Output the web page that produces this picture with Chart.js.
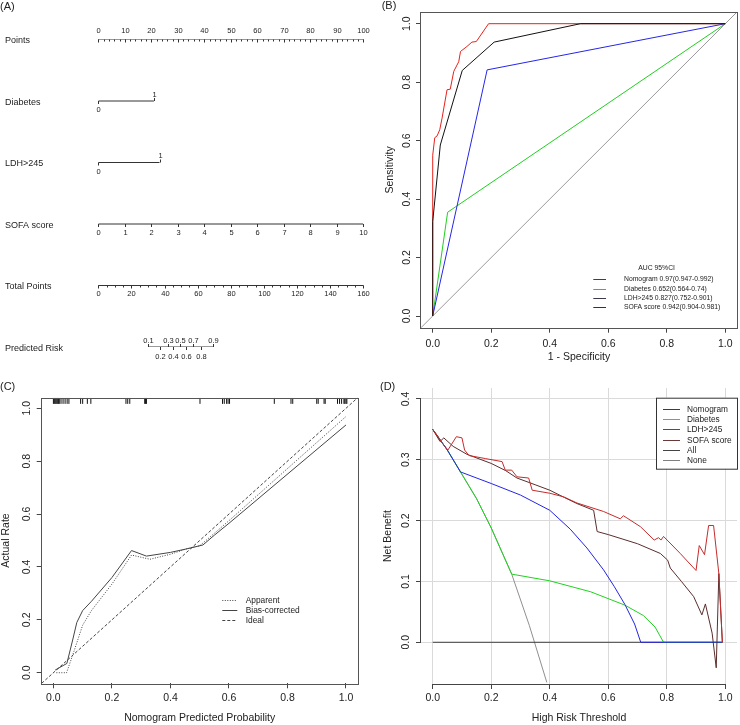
<!DOCTYPE html>
<html><head><meta charset="utf-8">
<script src="https://cdn.jsdelivr.net/npm/chart.js@4/dist/chart.umd.min.js"></script>
<style>
html,body{margin:0;padding:0;background:#fff;width:740px;height:725px;overflow:hidden}
canvas{position:absolute;left:0;top:0}
</style></head><body>
<canvas id="cA" width="740" height="725"></canvas>
<canvas id="cB" width="740" height="725"></canvas>
<canvas id="cC" width="740" height="725"></canvas>
<canvas id="cD" width="740" height="725"></canvas>
<script>
// ---------------- DATA ----------------
// (A) nomogram
const nomoRows = ['Points', 'Diabetes', 'LDH>245', 'SOFA score', 'Total Points', 'Predicted Risk'];
const pointsTickLabels = [0, 10, 20, 30, 40, 50, 60, 70, 80, 90, 100];
const diabetesLevels = ['0', '1'];
const diabetesPoints = [0, 21.0];
const ldhLevels = ['0', '1'];
const ldhPoints = [0, 23.1];
const sofaTickLabels = [0, 1, 2, 3, 4, 5, 6, 7, 8, 9, 10];
const totalTickLabels = [0, 20, 40, 60, 80, 100, 120, 140, 160];
const riskLabels = [0.1, 0.2, 0.3, 0.4, 0.5, 0.6, 0.7, 0.8, 0.9];
const riskTotalPoints = [30.2, 37.3, 42.3, 45.3, 49.3, 53.0, 57.4, 61.8, 69.4];

// (B) ROC curves
const rocNomogramFpr = [0, 0, 0, 0.007, 0.015, 0.024, 0.032, 0.049, 0.06, 0.072, 0.089, 0.095, 0.117, 0.134, 0.149, 0.191, 1];
const rocNomogramTpr = [0, 0.336, 0.55, 0.61, 0.616, 0.637, 0.677, 0.774, 0.776, 0.837, 0.87, 0.905, 0.922, 0.937, 0.939, 1, 1];
const rocDiabetesFpr = [0, 0.051, 1];
const rocDiabetesTpr = [0, 0.355, 1];
const rocLdhFpr = [0, 0.186, 1];
const rocLdhTpr = [0, 0.842, 1];
const rocSofaFpr = [0, 0, 0.026, 0.101, 0.21, 0.505, 1];
const rocSofaTpr = [0, 0.323, 0.585, 0.84, 0.937, 1, 1];
const rocRefLine = [-0.04, 1.04];
const rocTicks = [0, 0.2, 0.4, 0.6, 0.8, 1.0];
const rocLegendTitle = 'AUC 95%CI';
const rocLegendLabels = ['Nomogram 0.97(0.947-0.992)', 'Diabetes 0.652(0.564-0.74)', 'LDH>245 0.827(0.752-0.901)', 'SOFA score 0.942(0.904-0.981)'];

// (C) calibration
const calApparentX = [0.01, 0.045, 0.07, 0.1, 0.13, 0.2, 0.267, 0.33, 0.4, 0.454, 0.5, 0.55, 0.6, 1.0];
const calApparentY = [0.0, 0.0, 0.08, 0.18, 0.235, 0.335, 0.445, 0.429, 0.448, 0.468, 0.48, 0.527, 0.575, 0.969];
const calBiasX = [0.006, 0.046, 0.065, 0.08, 0.1, 0.13, 0.2, 0.267, 0.318, 0.4, 0.454, 0.511, 0.55, 0.6, 1.0];
const calBiasY = [0.01, 0.035, 0.12, 0.19, 0.235, 0.27, 0.36, 0.462, 0.441, 0.455, 0.468, 0.483, 0.52, 0.565, 0.937];
const calIdeal = [-0.04, 1.04];
const calRug = [0, 0.003, 0.006, 0.009, 0.012, 0.015, 0.018, 0.02, 0.026, 0.033, 0.04, 0.047, 0.053,
  0.093, 0.1, 0.116, 0.128, 0.248, 0.254, 0.261, 0.312, 0.315, 0.318, 0.501,
  0.578, 0.584, 0.592, 0.597, 0.602, 0.755, 0.812, 0.818, 0.9, 0.905, 0.925, 0.929,
  0.971, 0.978, 0.985, 0.993, 0.996, 1.0, 1.003];
const calTicks = [0, 0.2, 0.4, 0.6, 0.8, 1.0];
const calLegendLabels = ['Apparent', 'Bias-corrected', 'Ideal'];

// (D) decision curves
const dcaNomogramX = [0, 0.02, 0.03, 0.052, 0.081, 0.1, 0.109, 0.124, 0.18, 0.237, 0.248, 0.27, 0.288, 0.328, 0.34, 0.4, 0.448, 0.493, 0.584, 0.641, 0.652, 0.71, 0.757, 0.772, 0.78, 0.789, 0.846, 0.9, 0.911, 0.929, 0.943, 0.96, 0.978, 0.99];
const dcaNomogramY = [0.35, 0.337, 0.329, 0.316, 0.338, 0.336, 0.316, 0.307, 0.302, 0.297, 0.283, 0.283, 0.272, 0.27, 0.25, 0.245, 0.239, 0.229, 0.215, 0.203, 0.208, 0.19, 0.168, 0.172, 0.168, 0.174, 0.146, 0.118, 0.159, 0.144, 0.192, 0.192, 0.113, 0.0];
const dcaSofaX = [0, 0.025, 0.038, 0.07, 0.117, 0.2, 0.25, 0.288, 0.35, 0.4, 0.45, 0.493, 0.55, 0.562, 0.6, 0.7, 0.778, 0.803, 0.812, 0.85, 0.892, 0.92, 0.932, 0.955, 0.969, 0.978, 0.99];
const dcaSofaY = [0.35, 0.33, 0.336, 0.322, 0.309, 0.294, 0.282, 0.27, 0.259, 0.25, 0.238, 0.228, 0.217, 0.182, 0.177, 0.162, 0.146, 0.135, 0.122, 0.1, 0.075, 0.045, 0.063, 0.015, -0.042, 0.113, 0.0];
const dcaLdhX = [0, 0.05, 0.095, 0.2, 0.3, 0.4, 0.47, 0.527, 0.584, 0.62, 0.657, 0.69, 0.711, 0.99];
const dcaLdhY = [0.35, 0.316, 0.28, 0.261, 0.242, 0.217, 0.186, 0.155, 0.119, 0.092, 0.062, 0.03, 0.0, 0.0];
const dcaDiabetesX = [0, 0.05, 0.095, 0.15, 0.2, 0.27, 0.4, 0.54, 0.657, 0.72, 0.76, 0.789, 0.99];
const dcaDiabetesY = [0.35, 0.316, 0.28, 0.236, 0.188, 0.112, 0.101, 0.083, 0.061, 0.044, 0.025, 0.0, 0.0];
const dcaAllX = [0, 0.05, 0.095, 0.15, 0.2, 0.27, 0.33, 0.39];
const dcaAllY = [0.35, 0.316, 0.28, 0.236, 0.188, 0.112, 0.028, -0.066];
const dcaNoneX = [0, 0.99];
const dcaNoneY = [0, 0];
const dcaXTicks = [0, 0.2, 0.4, 0.6, 0.8, 1.0];
const dcaYTicks = [0, 0.1, 0.2, 0.3, 0.4];
const dcaLegendLabels = ['Nomogram', 'Diabetes', 'LDH>245', 'SOFA score', 'All', 'None'];

const panelLabels = ['(A)', '(B)', '(C)', '(D)'];

// ---------------- HELPERS ----------------
const FONT = '"Liberation Sans", Arial, Helvetica, sans-serif';
Chart.defaults.font.family = FONT;
Chart.defaults.color = '#222';
const font = s => s + 'px ' + FONT;

function xy(xs, ys) { return xs.map((v, i) => ({ x: v, y: ys[i] })); }
function lineDs(xs, ys, color, extra) {
  return Object.assign({ data: xy(xs, ys), showLine: true, borderColor: color, backgroundColor: color,
    borderWidth: 1, pointRadius: 0, fill: false, tension: 0 }, extra || {});
}
function baseOptions(pad) {
  return { responsive: false, animation: false, devicePixelRatio: 1, events: [],
    layout: { padding: pad }, plugins: { legend: { display: false }, tooltip: { enabled: false } } };
}
function rAxis(o) {
  return {
    type: 'linear', position: o.position, min: o.min, max: o.max,
    afterBuildTicks: s => { s.ticks = o.ticks.map(v => ({ value: v })); },
    afterFit: s => { if (o.position === 'left') s.width = o.size; else s.height = o.size; },
    grid: { display: true, drawOnChartArea: !!o.grid, color: '#dadada', tickColor: '#444',
      tickLength: 5, drawTicks: true, lineWidth: 1 },
    border: { display: false },
    ticks: { color: '#222', font: { size: 10.5, family: FONT }, padding: o.pad, autoSkip: false,
      minRotation: o.rot || 0, maxRotation: o.rot || 0, crossAlign: o.rot ? 'center' : 'near',
      callback: v => Number(v).toFixed(1) },
    title: { display: true, text: o.title, color: '#222', font: { size: 10.5, family: FONT },
      padding: { top: 0, bottom: 0 } }
  };
}

const rStyle = {
  id: 'rStyle',
  afterDraw(chart, args, o) {
    const ctx = chart.ctx, a = chart.chartArea;
    ctx.save();
    ctx.lineWidth = 1;
    if (o.box) {
      ctx.strokeStyle = '#555';
      ctx.strokeRect(Math.round(a.left) - 0.5, Math.round(a.top) + 0.5,
        Math.round(a.right - a.left) + 1, Math.round(a.bottom - a.top));
    }
    if (o.axisLines) {
      const xs = chart.scales.x, ys = chart.scales.y;
      ctx.strokeStyle = '#444';
      ctx.beginPath();
      const yb = Math.round(a.bottom) + 0.5;
      ctx.moveTo(xs.getPixelForValue(xs.ticks[0].value), yb);
      ctx.lineTo(xs.getPixelForValue(xs.ticks[xs.ticks.length - 1].value), yb);
      const xl = Math.round(a.left) - 0.5;
      ctx.moveTo(xl, ys.getPixelForValue(ys.ticks[0].value));
      ctx.lineTo(xl, ys.getPixelForValue(ys.ticks[ys.ticks.length - 1].value));
      ctx.stroke();
    }
    if (o.label) {
      ctx.fillStyle = '#222'; ctx.font = font(11); ctx.textAlign = 'left'; ctx.textBaseline = 'middle';
      ctx.fillText(o.label.text, o.label.x, o.label.y);
    }
    const L = o.legend;
    if (L) {
      if (L.frame) {
        ctx.fillStyle = '#fff'; ctx.fillRect(L.frame[0], L.frame[1], L.frame[2], L.frame[3]);
        ctx.strokeStyle = '#333'; ctx.strokeRect(L.frame[0] + 0.5, L.frame[1] + 0.5, L.frame[2], L.frame[3]);
      }
      ctx.font = font(L.size); ctx.textBaseline = 'middle'; ctx.textAlign = 'left';
      if (L.title) { ctx.fillStyle = '#222'; ctx.fillText(L.title, L.titleX, L.titleY); }
      L.labels.forEach((t, i) => {
        const y = Math.round(L.y0 + i * L.dy) + 0.5;
        ctx.strokeStyle = L.colors[i];
        ctx.setLineDash(L.dashes ? L.dashes[i] : []);
        ctx.beginPath(); ctx.moveTo(L.x0, y); ctx.lineTo(L.x1, y); ctx.stroke();
        ctx.setLineDash([]);
        ctx.fillStyle = '#222'; ctx.fillText(t, L.tx, y);
      });
    }
    ctx.restore();
  }
};

// ---------------- (A) NOMOGRAM ----------------
const nomoPlugin = {
  id: 'nomogram',
  afterDraw(chart) {
    const ctx = chart.ctx, S = chart.scales;
    const px = (id, v) => Math.round(S[id].getPixelForValue(v)) + 0.5;
    const py = r => S.y.getPixelForValue(r);
    const vtick = (x, y, len) => { ctx.beginPath(); ctx.moveTo(x, y); ctx.lineTo(x, y + len); ctx.stroke(); };
    const text = (t, x, y) => ctx.fillText(String(t), x, y);
    ctx.save();
    ctx.lineWidth = 1; ctx.strokeStyle = '#333'; ctx.fillStyle = '#222';
    ctx.font = font(11); ctx.textAlign = 'left'; ctx.textBaseline = 'middle';
    text(panelLabels[0], 0, 6.7);
    ctx.font = font(9);
    nomoRows.forEach((name, i) => text(name, 5, py(i) + 1.5));
    ctx.font = font(7.5); ctx.textAlign = 'center';
    // Points
    let y = py(0);
    for (let v = pointsTickLabels[0]; v <= pointsTickLabels[pointsTickLabels.length - 1] + 1e-9; v += 2) vtick(px('x', v), y, 2);
    pointsTickLabels.forEach(v => { vtick(px('x', v), y, 3); text(v, px('x', v), y - 9); });
    // Diabetes
    y = py(1);
    vtick(px('x', diabetesPoints[0]), y, 3); text(diabetesLevels[0], px('x', diabetesPoints[0]), y + 9);
    vtick(px('x', diabetesPoints[1]), y, -3); text(diabetesLevels[1], px('x', diabetesPoints[1]), y - 6.5);
    // LDH
    y = py(2);
    vtick(px('x', ldhPoints[0]), y, 3); text(ldhLevels[0], px('x', ldhPoints[0]), y + 9);
    vtick(px('x', ldhPoints[1]), y, -3); text(ldhLevels[1], px('x', ldhPoints[1]), y - 6.5);
    // SOFA
    y = py(3);
    sofaTickLabels.forEach(v => { vtick(px('xSofa', v), y, 3); text(v, px('xSofa', v), y + 8.5); });
    // Total points
    y = py(4);
    for (let v = totalTickLabels[0]; v <= totalTickLabels[totalTickLabels.length - 1] + 1e-9; v += 5) vtick(px('xTotal', v), y, 2);
    totalTickLabels.forEach(v => { vtick(px('xTotal', v), y, 3); text(v, px('xTotal', v), y + 8.5); });
    // Predicted risk
    y = py(5);
    riskLabels.forEach((r, i) => {
      const x = px('xTotal', riskTotalPoints[i]);
      if (i % 2 === 0) { vtick(x, y, -3); text(r, x, y - 6.5); }
      else { vtick(x, y, 3); text(r, x, y + 9.5); }
    });
    ctx.restore();
  }
};
function seg(xs, row, axisId) {
  return { data: xs.map(v => ({ x: v, y: row })), xAxisID: axisId, yAxisID: 'y', showLine: true,
    borderColor: '#333', borderWidth: 1, pointRadius: 0, fill: false };
}
new Chart(document.getElementById('cA'), {
  type: 'scatter',
  data: { datasets: [
    seg([pointsTickLabels[0], pointsTickLabels[pointsTickLabels.length - 1]], 0, 'x'),
    seg(diabetesPoints, 1, 'x'),
    seg(ldhPoints, 2, 'x'),
    seg([sofaTickLabels[0], sofaTickLabels[sofaTickLabels.length - 1]], 3, 'xSofa'),
    seg([totalTickLabels[0], totalTickLabels[totalTickLabels.length - 1]], 4, 'xTotal'),
    seg([riskTotalPoints[0], riskTotalPoints[riskTotalPoints.length - 1]], 5, 'xTotal')
  ] },
  options: Object.assign(baseOptions({ left: 98.3, right: 376.7, top: 39.5, bottom: 378 }), {
    scales: {
      x: { type: 'linear', min: 0, max: 100, display: false },
      xSofa: { type: 'linear', axis: 'x', min: 0, max: 10, display: false },
      xTotal: { type: 'linear', axis: 'x', min: 0, max: 160, display: false },
      y: { type: 'linear', min: 0, max: 5, reverse: true, display: false }
    }
  }),
  plugins: [nomoPlugin]
});

// ---------------- (B) ROC ----------------
const optB = baseOptions({ left: 383.7, right: 3, top: 12, bottom: 361.9 });
optB.scales = {
  x: rAxis({ position: 'bottom', min: -0.04, max: 1.04, ticks: rocTicks, size: 35.4, pad: 5, title: '1 - Specificity' }),
  y: rAxis({ position: 'left', min: -0.04, max: 1.04, ticks: rocTicks, size: 37.3, pad: 2, rot: 90, title: 'Sensitivity' })
};
optB.plugins.rStyle = {
  box: true, label: { text: panelLabels[1], x: 381.7, y: 6 },
  legend: { size: 6.8, title: rocLegendTitle, titleX: 638.3, titleY: 268.3, labels: rocLegendLabels,
    colors: ['#6e2b2b', '#22cc22', '#3a3a4a', '#333'], x0: 593.3, x1: 606, tx: 624, y0: 279.3, dy: 9.3 }
};
new Chart(document.getElementById('cB'), {
  type: 'scatter',
  data: { datasets: [
    lineDs(rocSofaFpr, rocSofaTpr, '#111'),
    lineDs(rocNomogramFpr, rocNomogramTpr, '#e8211c'),
    lineDs(rocLdhFpr, rocLdhTpr, '#2626e8'),
    lineDs(rocDiabetesFpr, rocDiabetesTpr, '#1fcf1f'),
    lineDs(rocRefLine, rocRefLine, '#9a9a9a')
  ] },
  options: optB,
  plugins: [rStyle]
});

// ---------------- (C) CALIBRATION ----------------
const optC = baseOptions({ left: 0, right: 382.3, top: 397.7, bottom: 0.9 });
optC.scales = {
  x: rAxis({ position: 'bottom', min: -0.04, max: 1.04, ticks: calTicks, size: 40.8, pad: 3.7, title: 'Nomogram Predicted Probability' }),
  y: rAxis({ position: 'left', min: -0.04, max: 1.04, ticks: calTicks, size: 41.7, pad: 2.7, rot: 90, title: 'Actual Rate' })
};
optC.plugins.rStyle = {
  box: true, label: { text: panelLabels[2], x: 0, y: 386.7 },
  legend: { size: 8.4, labels: calLegendLabels, colors: ['#444', '#444', '#444'],
    dashes: [[1, 1.5], [], [3, 2]], x0: 222.3, x1: 237.3, tx: 245.7, y0: 600, dy: 10 }
};
const rugLevel = 1.028;
new Chart(document.getElementById('cC'), {
  type: 'scatter',
  data: { datasets: [
    { data: calRug.map(v => ({ x: v, y: rugLevel })), pointStyle: 'line', rotation: 90, pointRadius: 3,
      borderColor: '#111', backgroundColor: '#111', borderWidth: 1, showLine: false },
    lineDs(calBiasX, calBiasY, '#444'),
    lineDs(calApparentX, calApparentY, '#444', { borderDash: [1, 1.5] }),
    lineDs(calIdeal, calIdeal, '#444', { borderDash: [3, 2] })
  ] },
  options: optC,
  plugins: [rStyle]
});

// ---------------- (D) DECISION CURVES ----------------
const optD = baseOptions({ left: 381.7, right: 3, top: 388, bottom: 0.6 });
optD.scales = {
  x: rAxis({ position: 'bottom', min: -0.04, max: 1.04, ticks: dcaXTicks, size: 40.4, pad: 3, title: 'High Risk Threshold', grid: true }),
  y: rAxis({ position: 'left', min: -0.0686, max: 0.418, ticks: dcaYTicks, size: 39.3, pad: 2.7, rot: 90, title: 'Net Benefit', grid: true })
};
optD.plugins.rStyle = {
  axisLines: true, label: { text: panelLabels[3], x: 380, y: 386.7 },
  legend: { size: 8.3, frame: [656, 397.7, 81, 71], labels: dcaLegendLabels,
    colors: ['#7a2222', '#22dd22', '#3a3aff', '#6a3a3a', '#444', '#808080'],
    x0: 663, x1: 680, tx: 687, y0: 409, dy: 10.2 }
};
new Chart(document.getElementById('cD'), {
  type: 'scatter',
  data: { datasets: [
    lineDs(dcaNomogramX, dcaNomogramY, '#c62b2b'),
    lineDs(dcaSofaX, dcaSofaY, '#5a2d2d'),
    lineDs(dcaLdhX, dcaLdhY, '#2424e6'),
    lineDs(dcaDiabetesX, dcaDiabetesY, '#1fd21f'),
    lineDs(dcaNoneX, dcaNoneY, '#3d3d3d'),
    lineDs(dcaAllX, dcaAllY, '#8f8f8f')
  ] },
  options: optD,
  plugins: [rStyle]
});
</script>
</body></html>
